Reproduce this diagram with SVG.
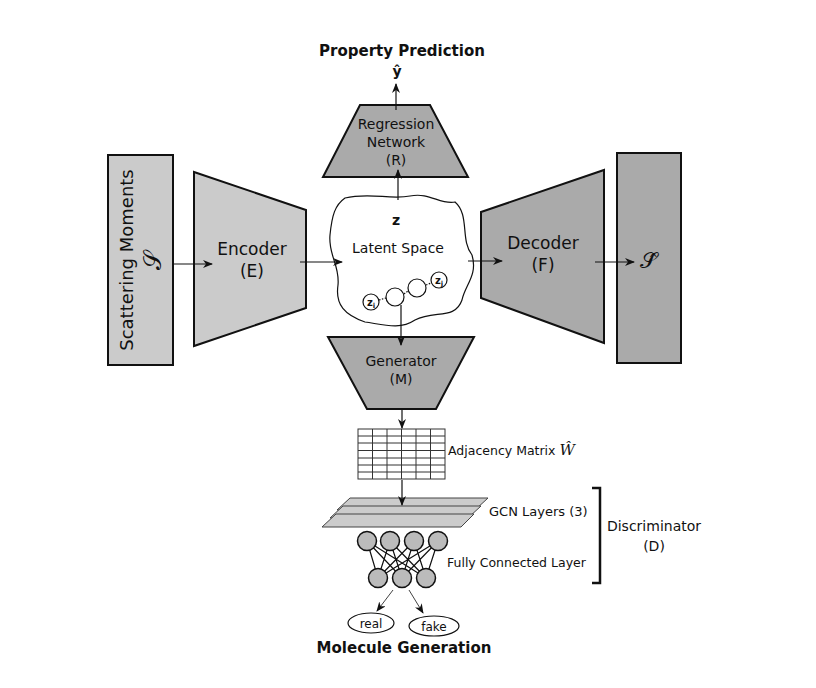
<svg xmlns="http://www.w3.org/2000/svg" width="816" height="688" viewBox="0 0 816 688">
<style>
text{font-family:"DejaVu Sans",sans-serif;fill:#111}
.s{stroke:#111;stroke-width:2}
.l{stroke:#111;stroke-width:1.2;fill:none}
.c{fill:#bbb;stroke:#111;stroke-width:1.5}
.m{font-family:"DejaVu Serif",serif;font-style:italic}
.cal{font-family:"DejaVu Sans",sans-serif}
</style>
<defs><marker id="a" markerWidth="10" markerHeight="8" refX="9" refY="4" orient="auto" markerUnits="userSpaceOnUse"><path d="M0,0 L10,4 L0,8 L3,4z" fill="#111"/></marker></defs>
<rect width="816" height="688" fill="#fff"/>
<g id="scattering"><rect x="108" y="155" width="65" height="210" fill="#cbcbcb" class="s"/>
<text transform="translate(133,260) rotate(-90)" font-size="18" text-anchor="middle">Scattering Moments</text>
<text transform="translate(161,260) rotate(-90)" font-size="24" text-anchor="middle" class="cal">𝒮</text></g>
<g id="encoder"><polygon points="194,172 306,210 306,308 194,346" fill="#cbcbcb" class="s"/>
<text x="252" y="255" font-size="17" text-anchor="middle">Encoder</text><text x="252" y="277" font-size="17" text-anchor="middle">(E)</text></g>
<g id="latent"><path d="M345,198 C370,192 390,200 410,196 C430,192 440,205 455,202 C470,215 460,240 472,255 C478,275 465,285 462,300 C455,320 435,310 415,320 C400,330 385,325 365,322 C345,315 335,305 338,285 C340,265 328,255 330,235 C332,215 335,205 345,198Z" fill="#fff" class="l" stroke-width="1.5"/>
<text x="396" y="225" font-size="14" text-anchor="middle" font-weight="bold" font-family="DejaVu Serif,serif">z</text>
<text x="398" y="253" font-size="14" text-anchor="middle">Latent Space</text>
<g class="l" stroke-dasharray="1.5,1.5"><line x1="379" y1="300" x2="386" y2="298"/><line x1="404" y1="294" x2="408" y2="291"/><line x1="426" y1="285" x2="431" y2="283"/></g>
<circle cx="371" cy="302" r="8" fill="#fff" class="l"/><circle cx="395" cy="297" r="9" fill="#fff" class="l"/><circle cx="417" cy="288" r="9" fill="#fff" class="l"/><circle cx="439" cy="280" r="8" fill="#fff" class="l"/>
<text x="371" y="306" font-size="10" text-anchor="middle" font-family="DejaVu Serif,serif" font-weight="bold">z<tspan font-size="7" dy="2">i</tspan></text>
<text x="439" y="284" font-size="10" text-anchor="middle" font-family="DejaVu Serif,serif" font-weight="bold">z<tspan font-size="7" dy="2">j</tspan></text></g>
<g id="regression"><polygon points="360,105 430,105 468,177 323,177" fill="#aaa" class="s"/>
<text x="396" y="129" font-size="14" text-anchor="middle">Regression</text><text x="396" y="147" font-size="14" text-anchor="middle">Network</text><text x="396" y="165" font-size="14" text-anchor="middle">(R)</text></g>
<g id="decoder"><polygon points="481,212 604,170 604,343 481,298" fill="#aaa" class="s"/>
<text x="543" y="249" font-size="17" text-anchor="middle">Decoder</text><text x="543" y="271" font-size="17" text-anchor="middle">(F)</text></g>
<g id="shat"><rect x="617" y="153" width="64" height="210" fill="#aaa" class="s"/>
<text x="648" y="268" font-size="22" text-anchor="middle" class="cal">𝒮̂</text></g>
<g id="generator"><polygon points="328,337 474,337 436,409 367,409" fill="#aaa" class="s"/>
<text x="401" y="366" font-size="14" text-anchor="middle">Generator</text><text x="401" y="384" font-size="14" text-anchor="middle">(M)</text></g>
<g id="titles"><text x="402" y="56" font-size="15" font-weight="bold" text-anchor="middle">Property Prediction</text>
<text x="397" y="76" font-size="14" font-weight="bold" text-anchor="middle" font-family="DejaVu Serif,serif">ŷ</text>
<text x="404" y="653" font-size="15" font-weight="bold" text-anchor="middle">Molecule Generation</text></g>
<g id="matrix" stroke="#333" stroke-width="1" fill="none"><rect x="358" y="429" width="87" height="50" fill="#fff"/>
<path d="M372.5,429V479M387,429V479M401.5,429V479M416,429V479M430.5,429V479M358,436H445M358,443H445M358,450.5H445M358,458H445M358,465H445M358,472H445"/></g>
<text x="448" y="455" font-size="12.5">Adjacency Matrix <tspan class="m" font-size="15">Ŵ</tspan></text>
<g id="gcn" fill="#ccc" stroke="#444" stroke-width="1"><polygon points="337,510 350,498 488,498 475,510"/><polygon points="330,518 343,506 481,506 468,518"/><polygon points="322,527 336,514 474,514 461,527"/></g>
<text x="489" y="516" font-size="13">GCN Layers (3)</text>
<g id="fc"><g class="l" stroke-width="0.9"><path d="M367,541L378,578M367,541L402,578M367,541L426,578M390,541L378,578M390,541L402,578M390,541L426,578M414,541L378,578M414,541L402,578M414,541L426,578M438,541L378,578M438,541L402,578M438,541L426,578"/></g>
<circle cx="367" cy="541" r="9.5" class="c"/><circle cx="390" cy="541" r="9.5" class="c"/><circle cx="414" cy="541" r="9.5" class="c"/><circle cx="438" cy="541" r="9.5" class="c"/>
<circle cx="378" cy="578" r="9.5" class="c"/><circle cx="402" cy="578" r="9.5" class="c"/><circle cx="426" cy="578" r="9.5" class="c"/></g>
<text x="447" y="567" font-size="12.5">Fully Connected Layer</text>
<g id="out"><ellipse cx="371" cy="623" rx="23" ry="10" fill="#fff" class="l"/><ellipse cx="434" cy="626" rx="25" ry="10" fill="#fff" class="l"/>
<text x="371" y="628" font-size="12" text-anchor="middle">real</text><text x="434" y="631" font-size="12" text-anchor="middle">fake</text></g>
<g id="disc"><path d="M592,488H600V583H592" fill="none" stroke="#111" style="stroke-width:2.5"/>
<text x="654" y="531" font-size="14" text-anchor="middle">Discriminator</text><text x="654" y="551" font-size="14" text-anchor="middle">(D)</text></g>
<g id="connectors" class="l" marker-end="url(#a)">
<line x1="173" y1="264" x2="212" y2="264"/><line x1="300" y1="262" x2="342" y2="262"/><line x1="468" y1="261" x2="502" y2="261"/><line x1="595" y1="262" x2="634" y2="262"/>
<line x1="398" y1="200" x2="398" y2="170"/><line x1="396" y1="110" x2="396" y2="84"/><line x1="401" y1="305" x2="401" y2="345"/>
<line x1="402" y1="409" x2="402" y2="428"/><line x1="402" y1="480" x2="402" y2="505"/>
<line x1="393" y1="590" x2="377" y2="611" style="stroke-width:0.8"/><line x1="409" y1="590" x2="423" y2="613" style="stroke-width:0.8"/></g>
</svg>
